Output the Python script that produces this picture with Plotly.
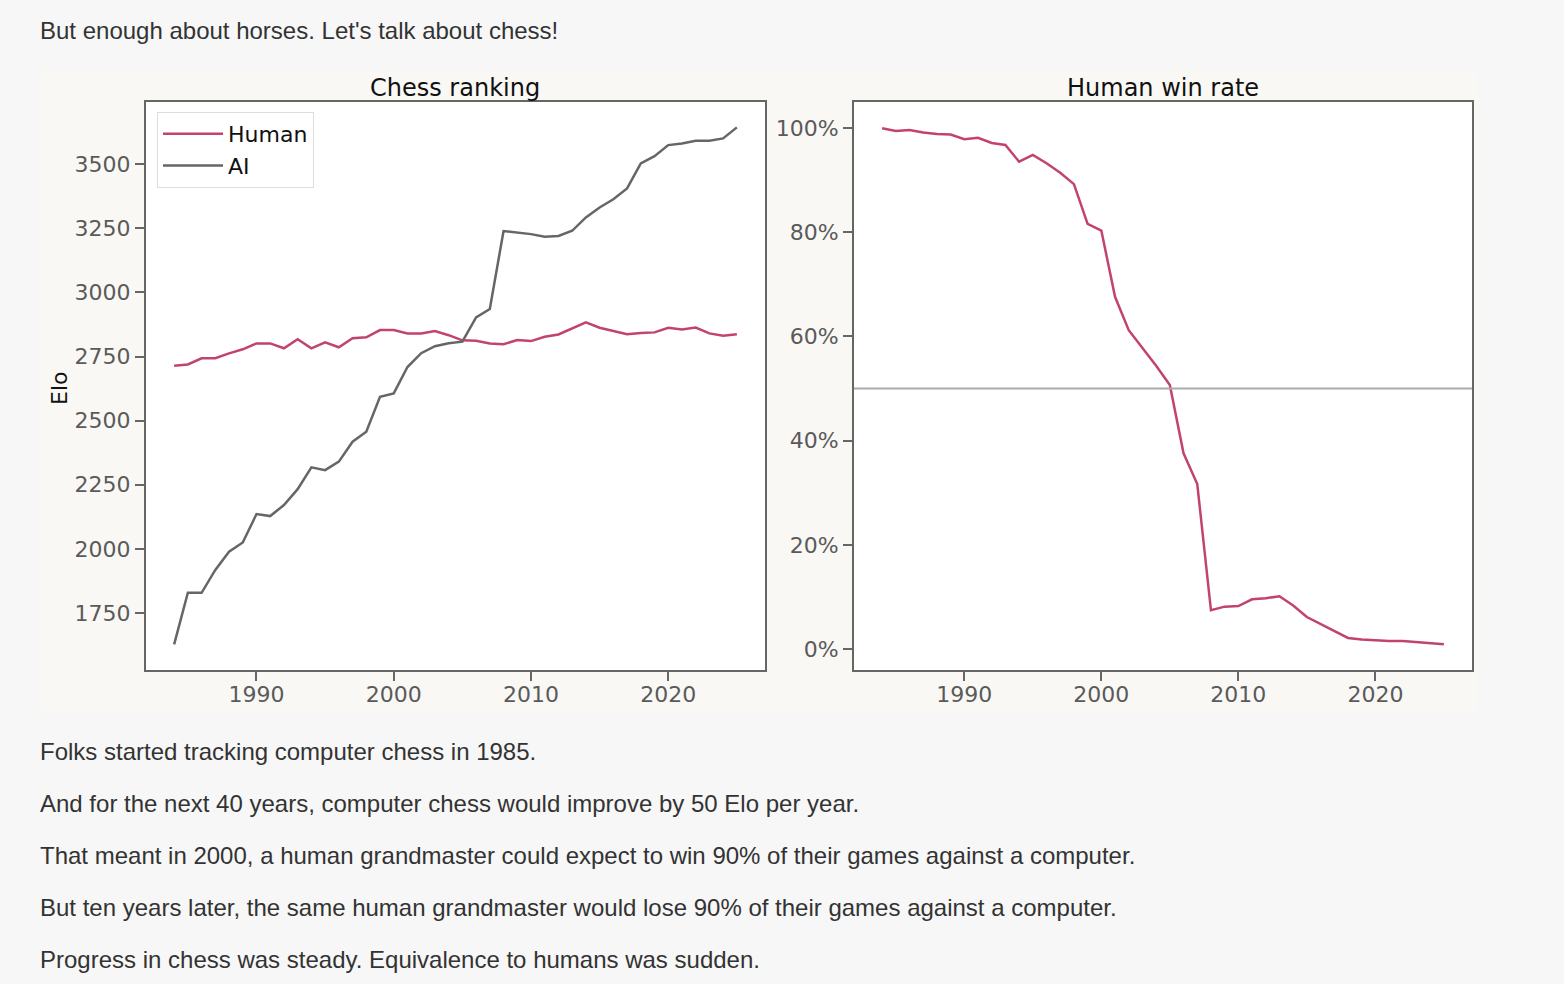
import plotly.graph_objects as go

# ---------------- data ----------------
years = [1984, 1985, 1986, 1987, 1988, 1989, 1990, 1991, 1992, 1993,
         1994, 1995, 1996, 1997, 1998, 1999, 2000, 2001, 2002, 2003,
         2004, 2005, 2006, 2007, 2008, 2009, 2010, 2011, 2012, 2013,
         2014, 2015, 2016, 2017, 2018, 2019, 2020, 2021, 2022, 2023,
         2024, 2025]

human_elo = [2714, 2719, 2743, 2743, 2762, 2778, 2801, 2801, 2782, 2817,
             2782, 2805, 2786, 2821, 2825, 2853, 2853, 2840, 2840, 2849,
             2833, 2813, 2811, 2801, 2798, 2814, 2810, 2827, 2836, 2859,
             2883, 2862, 2850, 2837, 2842, 2844, 2862, 2855, 2863, 2840,
             2831, 2837]

ai_elo = [1628, 1829, 1829, 1918, 1989, 2025, 2136, 2128, 2171, 2233,
          2318, 2307, 2340, 2418, 2457, 2593, 2606, 2709, 2763, 2790,
          2802, 2808, 2902, 2935, 3239, 3232, 3227, 3217, 3220, 3240,
          3292, 3331, 3363, 3405, 3503, 3531, 3574, 3580, 3591, 3591,
          3600, 3643]

human_win_rate = [99.9, 99.4, 99.6, 99.1, 98.8, 98.7, 97.8, 98.1, 97.1, 96.7,
                  93.5, 94.8, 93.2, 91.4, 89.2, 81.6, 80.3, 67.6, 61.2, 57.9,
                  54.4, 50.7, 37.6, 31.7, 7.5, 8.2, 8.3, 9.6, 9.8, 10.2,
                  8.4, 6.2, 4.9, 3.6, 2.2, 1.9, 1.7, 1.6, 1.6, 1.4,
                  1.2, 1.0]

elo_ticks = [1750, 2000, 2250, 2500, 2750, 3000, 3250, 3500]
pct_ticks = [0, 20, 40, 60, 80, 100]
pct_labels = ["0%", "20%", "40%", "60%", "80%", "100%"]
year_ticks = [1990, 2000, 2010, 2020]

intro_text = "But enough about horses. Let's talk about chess!"
outro_lines = [
    "Folks started tracking computer chess in 1985.",
    "And for the next 40 years, computer chess would improve by 50 Elo per year.",
    "That meant in 2000, a human grandmaster could expect to win 90% of their games against a computer.",
    "But ten years later, the same human grandmaster would lose 90% of their games against a computer.",
    "Progress in chess was steady. Equivalence to humans was sudden.",
]

# ---------------- layout helpers ----------------
W, H = 1564, 984
def px_x(x):
    return x / W
def px_y(y):
    return 1 - y / H

HUMAN_C = "#c2436f"
AI_C = "#666666"
CHART_FONT = "DejaVu Sans"
PAGE_FONT = "Liberation Sans"

fig = go.Figure()
fig.add_trace(go.Scatter(x=years, y=human_elo, mode="lines", name="Human",
                         line=dict(color=HUMAN_C, width=2.5),
                         xaxis="x", yaxis="y"))
fig.add_trace(go.Scatter(x=years, y=ai_elo, mode="lines", name="AI",
                         line=dict(color=AI_C, width=2.5),
                         xaxis="x", yaxis="y"))
fig.add_trace(go.Scatter(x=years, y=human_win_rate, mode="lines", name="Human win rate",
                         line=dict(color=HUMAN_C, width=2.5), showlegend=False,
                         xaxis="x2", yaxis="y2"))

axis_common = dict(showline=True, mirror=True, linecolor="#666666", linewidth=2,
                   ticks="outside", ticklen=9, tickwidth=1.5, tickcolor="#666666",
                   showgrid=False, zeroline=False,
                   tickfont=dict(family=CHART_FONT, size=22, color="#5a5a5a"))

ydom = [px_y(670), px_y(102)]
XL = [146, 765]
XR = [854, 1472]
fig.update_layout(
    width=W, height=H,
    margin=dict(l=0, r=0, t=0, b=0),
    paper_bgcolor="#f7f7f7",
    plot_bgcolor="#ffffff",
    xaxis=dict(domain=[px_x(XL[0]), px_x(XL[1])], range=[1981.95, 2027.05],
               tickvals=year_ticks, anchor="y", ticklabelstandoff=-5, **axis_common),
    yaxis=dict(domain=ydom, range=[1528, 3742], tickvals=elo_ticks,
               anchor="x", **axis_common),
    xaxis2=dict(domain=[px_x(XR[0]), px_x(XR[1])], range=[1981.95, 2027.05],
                tickvals=year_ticks, anchor="y2", ticklabelstandoff=-5, **axis_common),
    yaxis2=dict(domain=ydom, range=[-3.95, 104.95], tickvals=pct_ticks,
                ticktext=pct_labels, anchor="x2", **axis_common),
    legend=dict(x=px_x(157), y=px_y(112), xanchor="left", yanchor="top",
                bgcolor="#ffffff", bordercolor="#dddddd", borderwidth=1,
                font=dict(family=CHART_FONT, size=22, color="#111111"),
                itemwidth=60),
    showlegend=True,
)

# background of chart image, then white plot areas on top of it
fig.add_shape(type="rect", xref="paper", yref="paper",
              x0=px_x(40), x1=px_x(1478), y0=px_y(713), y1=px_y(70),
              fillcolor="#f9f8f5", line=dict(width=0), layer="below")
for xs in (XL, XR):
    fig.add_shape(type="rect", xref="paper", yref="paper",
                  x0=px_x(xs[0]), x1=px_x(xs[1]), y0=ydom[0], y1=ydom[1],
                  fillcolor="#ffffff", line=dict(width=0), layer="below")

# 50% reference line
fig.add_shape(type="line", xref="x2 domain", yref="y2", x0=0, x1=1, y0=50, y1=50,
              line=dict(color="#aaaaaa", width=2), layer="above")

annotations = []
annotations.append(dict(text="Chess ranking", xref="paper", yref="paper",
                        x=(px_x(XL[0]) + px_x(XL[1])) / 2, y=px_y(88),
                        xanchor="center", yanchor="middle", showarrow=False,
                        font=dict(family=CHART_FONT, size=24, color="#111111")))
annotations.append(dict(text="Human win rate", xref="paper", yref="paper",
                        x=(px_x(XR[0]) + px_x(XR[1])) / 2, y=px_y(88),
                        xanchor="center", yanchor="middle", showarrow=False,
                        font=dict(family=CHART_FONT, size=24, color="#111111")))
annotations.append(dict(text="Elo", xref="paper", yref="paper",
                        x=px_x(59), y=px_y(388), textangle=-90,
                        xanchor="center", yanchor="middle", showarrow=False,
                        font=dict(family=CHART_FONT, size=22, color="#111111")))
annotations.append(dict(text=intro_text, xref="paper", yref="paper",
                        x=px_x(38), y=px_y(31), xanchor="left", yanchor="middle",
                        showarrow=False,
                        font=dict(family=PAGE_FONT, size=24, color="#333333")))
line_y = [751, 803, 855, 907, 959]
for t, yy in zip(outro_lines, line_y):
    annotations.append(dict(text=t, xref="paper", yref="paper",
                            x=px_x(38), y=px_y(yy), xanchor="left", yanchor="middle",
                            showarrow=False,
                            font=dict(family=PAGE_FONT, size=24, color="#333333")))
fig.update_layout(annotations=annotations)

fig.write_html("out.html", config={"displayModeBar": False},
               post_script="document.body.style.margin='0px';document.body.style.overflow='hidden';")
